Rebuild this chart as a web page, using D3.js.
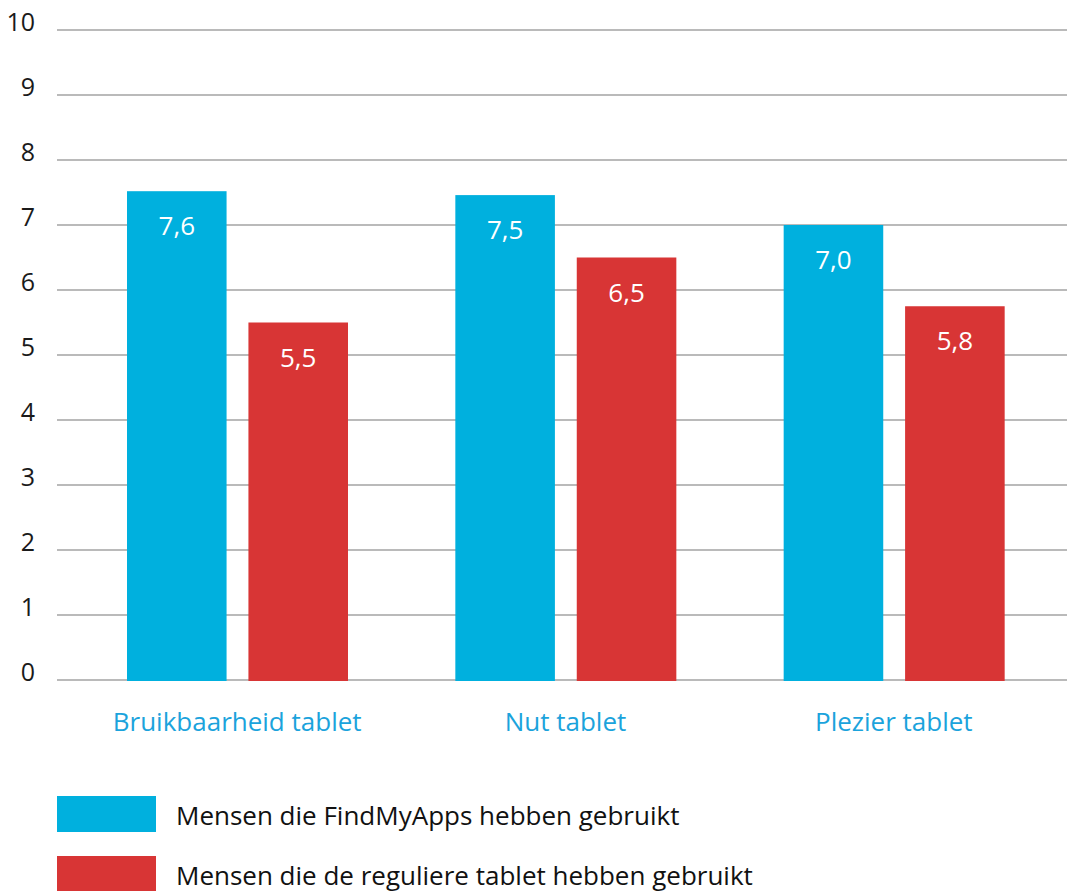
<!DOCTYPE html>
<html>
<head>
<meta charset="utf-8">
<script src="https://cdn.jsdelivr.net/npm/d3@7"></script>
<style>
  body { margin: 0; background: #fff; }
  text { font-family: "Open Sans", Roboto, sans-serif; }
</style>
</head>
<body>
<div class="container"></div>
<script>
const categories = ["Bruikbaarheid tablet", "Nut tablet", "Plezier tablet"]
const seriesNames = ["Mensen die FindMyApps hebben gebruikt", "Mensen die de reguliere tablet hebben gebruikt"]
const findMyApps = [7.52, 7.46, 7.0]
const findMyAppsLabels = ["7,6", "7,5", "7,0"]
const regulier = [5.5, 6.5, 5.75]
const regulierLabels = ["5,5", "6,5", "5,8"]
const yTicks = [0, 1, 2, 3, 4, 5, 6, 7, 8, 9, 10]
const colors = ["#00b0de", "#d83535"]

const wd = 1067, ht = 891

const svgC = d3.select(".container")
.append("svg")
.attr("width", wd)
.attr("height", ht)

const yScale = d3.scaleLinear()
.domain([0, 10])
.range([680, 30])

const x0 = d3.scaleBand()
.domain(categories)
.range([73, 1058])
.padding(0)

const x1 = d3.scaleBand()
.domain([0, 1])
.range([54, 275])
.paddingInner(0.18)

// gridlines + y labels
const grid = svgC.append("g")
grid.selectAll("line")
.data(yTicks)
.enter()
.append("line")
.attr("x1", 57)
.attr("x2", wd)
.attr("y1", d => yScale(d))
.attr("y2", d => yScale(d))
.style("stroke", "#a3a3a3")
.style("stroke-width", "1.5px")

grid.selectAll("text")
.data(yTicks)
.enter()
.append("text")
.attr("x", 35)
.attr("y", d => yScale(d) + 1)
.attr("text-anchor", "end")
.style("font-size", "25px")
.style("fill", "#1a1a1a")
.text(d => d)

let rows = []
categories.forEach((c, i) => {
  rows.push({cat: c, s: 0, v: findMyApps[i], lab: findMyAppsLabels[i]})
  rows.push({cat: c, s: 1, v: regulier[i], lab: regulierLabels[i]})
})

const bars = svgC.append("g")
bars.selectAll("rect")
.data(rows)
.enter()
.append("rect")
.attr("x", d => x0(d.cat) + x1(d.s))
.attr("width", x1.bandwidth())
.attr("y", d => yScale(d.v))
.attr("height", d => yScale(0) - yScale(d.v) + 1)
.attr("fill", d => colors[d.s])

bars.selectAll("text")
.data(rows)
.enter()
.append("text")
.attr("x", d => x0(d.cat) + x1(d.s) + x1.bandwidth() / 2)
.attr("y", d => yScale(d.v) + 44)
.attr("text-anchor", "middle")
.style("font-size", "26px")
.style("fill", "#fff")
.text(d => d.lab)

// category labels
svgC.append("g")
.selectAll("text")
.data(categories)
.enter()
.append("text")
.attr("x", d => x0(d) + x0.bandwidth() / 2)
.attr("y", 731)
.attr("text-anchor", "middle")
.style("font-size", "26px")
.style("fill", "#1ba3dc")
.text(d => d)

// legend
const legend = svgC.append("g")
.selectAll("g")
.data(seriesNames)
.enter()
.append("g")
.attr("transform", (d, i) => "translate(57 " + (796 + i * 60) + ")")

legend.append("rect")
.attr("width", 99)
.attr("height", 36)
.attr("fill", (d, i) => colors[i])

legend.append("text")
.attr("x", 119)
.attr("y", 29)
.style("font-size", "26px")
.style("fill", "#111")
.text(d => d)
</script>
</body>
</html>
